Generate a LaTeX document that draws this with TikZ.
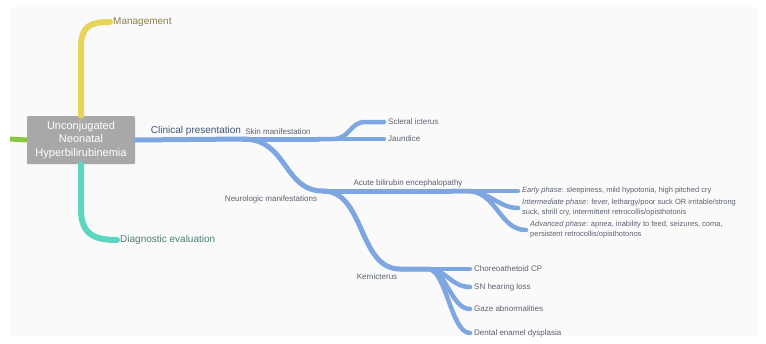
\documentclass[tikz,border=0pt]{standalone}
\usepackage{fontspec}
\setmainfont{Liberation Sans}
\definecolor{bluebr}{HTML}{7EA6E0}
\definecolor{yelbr}{HTML}{E8D458}
\definecolor{tealbr}{HTML}{5CD6BF}
\definecolor{greenbr}{HTML}{8CC63F}
\definecolor{rootgray}{HTML}{A8A8A8}
\definecolor{panel}{HTML}{FAFAFA}
\definecolor{labgray}{HTML}{5B6170}
\definecolor{mgmttext}{HTML}{8C7D4A}
\definecolor{diagtext}{HTML}{4F7C78}
\definecolor{cptext}{HTML}{3F5475}

\begin{document}
\begin{tikzpicture}[x=1pt,y=-1pt,
  blueline/.style={draw=bluebr,line width=5pt,line cap=round},
  leafline/.style={draw=bluebr,line width=4.5pt,line cap=round,shorten >=3pt},
  rootbox/.style={fill=rootgray,rounded corners=1pt,minimum width=108pt,minimum height=48pt,
    align=center,text=white,font=\fontsize{11}{13.5}\selectfont},
  biglabel/.style={font=\fontsize{10}{12}\selectfont,inner sep=1pt},
  small/.style={font=\fontsize{8}{9.5}\selectfont,text=labgray,inner sep=1pt},
  phase/.style={font=\fontsize{7.5}{10}\selectfont,text=labgray,inner sep=1pt,align=left}]
\useasboundingbox (0,0) rectangle (766,343);
\fill[panel] (10,7) rectangle (758,336);

\node[rootbox] (root) at (81,140) {Unconjugated\\Neonatal\\Hyperbilirubinemia};

\node[biglabel,text=mgmttext,anchor=west] (mgmt) at (112,22) {Management};
\node[biglabel,text=diagtext,anchor=west] (diag) at (119,240) {Diagnostic evaluation};
\node[biglabel,text=cptext] (cp) at (196,131) {Clinical presentation};
\coordinate (leftE) at (10,139);

\coordinate (cpJ) at (243,139);
\coordinate (skinJ) at (318,139);
\coordinate (neuJ) at (323,191);
\coordinate (abeJ) at (452,191);
\coordinate (kerJ) at (400,269);

\node[small] (skin) at (278,132) {Skin manifestation};
\node[small] (neu) at (271,199) {Neurologic manifestations};
\node[small] (abe) at (408,183) {Acute bilirubin encephalopathy};
\node[small] (ker) at (377,277) {Kernicterus};

\node[small,anchor=west] (scl) at (387,122) {Scleral icterus};
\node[small,anchor=west] (jaun) at (387,139) {Jaundice};

\node[phase,anchor=west] (early) at (521,191) {\textit{Early phase}: sleepiness, mild hypotonia, high pitched cry};
\node[phase,anchor=west] (inter) at (521,208) {\textit{Intermediate phase}: fever, lethargy/poor suck OR irritable/strong\\suck, shrill cry, intermittent retrocollis/opisthotonis};
\node[phase,anchor=west] (adv) at (529,230) {\textit{Advanced phase}: apnea, inability to feed, seizures, coma,\\persistent retrocollis/opisthotonos};

\node[small,anchor=west] (chor) at (473,269) {Choreoathetoid CP};
\node[small,anchor=west] (snhl) at (473,287) {SN hearing loss};
\node[small,anchor=west] (gaze) at (473,309) {Gaze abnormalities};
\node[small,anchor=west] (dent) at (473,333) {Dental enamel dysplasia};

\draw[draw=greenbr,line width=5pt] (root.west) -- (leftE);
\draw[draw=yelbr,line width=6pt,line cap=round,shorten >=2pt] (root.north) -- ++(0,-68) .. controls +(0,-22) and +(-22,0) .. (mgmt.west);
\draw[draw=tealbr,line width=6pt,line cap=round,shorten >=2pt] (root.south) -- ++(0,45) .. controls +(0,25) and +(-25,0) .. (diag.west);

\draw[blueline] (root.east) -- (cpJ);
\draw[blueline] (cpJ) -- (skinJ);
\draw[leafline] (skinJ) -- (jaun.west);
\draw[leafline] (skinJ) -- ++(15,0) .. controls +(17,0) and +(-15,0) .. ++(32,-17) -- (scl.west);
\draw[blueline] (cpJ) .. controls +(45,0) and +(-40,0) .. (neuJ);
\draw[blueline] (neuJ) -- (abeJ);
\draw[blueline] (neuJ) .. controls +(42,0) and +(-42,0) .. (kerJ);

\draw[leafline] (abeJ) -- (early.west);
\draw[leafline] (abeJ) -- ++(15,0) .. controls +(22,0) and +(-22,0) .. (inter.west);
\draw[leafline] (abeJ) -- ++(15,0) .. controls +(30,0) and +(-30,0) .. (adv.west);

\draw[leafline] (kerJ) -- (chor.west);
\foreach \leaf in {snhl,gaze,dent}
  \draw[leafline] (kerJ) -- ++(28,0) .. controls +(18,0) and +(-22,0) .. (\leaf.west);
\end{tikzpicture}
\end{document}
